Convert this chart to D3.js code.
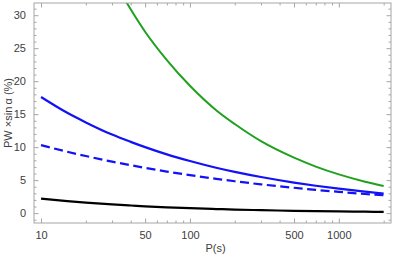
<!DOCTYPE html>
<html>
<head>
<meta charset="utf-8">
<script src="https://cdn.jsdelivr.net/npm/d3@7"></script>
<style>
  body { margin: 0; background: #fff; }
  text { font-family: "Liberation Sans", Arial, sans-serif; }
</style>
</head>
<body>
<div id="chart"></div>
<script>
// periods (s)
const periods = [10, 15, 20, 30, 40, 50, 70, 100, 150, 200, 300, 500, 700, 1000, 1500, 2000];
// PW x sin(alpha) in %
const greenVals  = [null, null, 44.2, 35.8, 30.9, 27.5, 23.2, 19.3, 15.6, 13.5, 10.9, 8.4, 7.05, 5.87, 4.76, 4.1];
const blueVals   = [17.6, 15.2, 13.75, 11.9, 10.8, 10.0, 8.9, 7.9, 6.88, 6.25, 5.47, 4.63, 4.15, 3.7, 3.25, 2.95];
const dashedVals = [10.3, 9.3, 8.65, 7.8, 7.26, 6.86, 6.3, 5.76, 5.2, 4.83, 4.36, 3.84, 3.52, 3.22, 2.9, 2.7];
const blackVals  = [2.2, 1.82, 1.59, 1.31, 1.15, 1.03, 0.88, 0.745, 0.616, 0.538, 0.445, 0.35, 0.3, 0.253, 0.21, 0.185];

const xMajor = [10, 50, 100, 500, 1000];
const xMinor = [20, 30, 40, 60, 70, 80, 90, 200, 300, 400, 600, 700, 800, 900, 2000];
const yMajor = [0, 5, 10, 15, 20, 25, 30];

const W = 395, H = 261;
const margin = {top: 3, right: 4, bottom: 38, left: 34};
const width = W - margin.left - margin.right;
const height = H - margin.top - margin.bottom;

const svg = d3.select("#chart").append("svg")
    .attr("width", W)
    .attr("height", H);

const g = svg.append("g")
    .attr("transform", `translate(${margin.left},${margin.top})`);

const x = d3.scaleLog().domain([8.97, 2240]).range([0, width]);
const y = d3.scaleLinear().domain([-1.5, 31.85]).range([height, 0]);

const yMinor = d3.range(-1, 32).filter(v => v % 5 !== 0);

g.append("clipPath").attr("id", "clip")
  .append("rect").attr("width", width).attr("height", height);

const series = [
  {vals: greenVals, color: "#1fa11f", dash: null, w: 2},
  {vals: blueVals, color: "#1212f5", dash: null, w: 2.2},
  {vals: dashedVals, color: "#1212f5", dash: "9,4.5", w: 2.2},
  {vals: blackVals, color: "#000", dash: null, w: 2.2}
];

const line = d3.line()
    .defined(d => d.v != null)
    .x(d => x(d.p))
    .y(d => y(d.v))
    .curve(d3.curveMonotoneX);

g.append("g").attr("clip-path", "url(#clip)")
  .selectAll("path")
  .data(series)
  .enter().append("path")
    .attr("fill", "none")
    .attr("stroke", d => d.color)
    .attr("stroke-width", d => d.w)
    .attr("stroke-dasharray", d => d.dash)
    .attr("d", d => line(periods.map((p, i) => ({p: p, v: d.vals[i]}))));

const frameColor = "#a6a6a6";

function styleAxis(sel) {
  sel.select(".domain").remove();
  sel.selectAll(".tick line").attr("stroke", frameColor);
  sel.selectAll(".tick text")
     .attr("fill", "#404040")
     .style("font-size", "11px");
}

// bottom axis
g.append("g").attr("transform", `translate(0,${height})`)
  .call(d3.axisBottom(x).tickValues(xMajor).tickFormat(d3.format("d")).tickSize(-4.5).tickPadding(8))
  .call(styleAxis);
g.append("g").attr("transform", `translate(0,${height})`)
  .call(d3.axisBottom(x).tickValues(xMinor).tickFormat("").tickSize(-2.5))
  .call(styleAxis);
// top axis
g.append("g")
  .call(d3.axisTop(x).tickValues(xMajor).tickFormat("").tickSize(-4.5))
  .call(styleAxis);
g.append("g")
  .call(d3.axisTop(x).tickValues(xMinor).tickFormat("").tickSize(-2.5))
  .call(styleAxis);
// left axis
g.append("g")
  .call(d3.axisLeft(y).tickValues(yMajor).tickSize(-4.5).tickPadding(8))
  .call(styleAxis);
g.append("g")
  .call(d3.axisLeft(y).tickValues(yMinor).tickFormat("").tickSize(-2.5))
  .call(styleAxis);
// right axis
g.append("g").attr("transform", `translate(${width},0)`)
  .call(d3.axisRight(y).tickValues(yMajor).tickFormat("").tickSize(-4.5))
  .call(styleAxis);
g.append("g").attr("transform", `translate(${width},0)`)
  .call(d3.axisRight(y).tickValues(yMinor).tickFormat("").tickSize(-2.5))
  .call(styleAxis);

g.append("rect")
  .attr("width", width).attr("height", height)
  .attr("fill", "none")
  .attr("stroke", frameColor)
  .attr("stroke-width", 1);

// axis titles
svg.append("text")
  .attr("x", margin.left + width / 2 + 3)
  .attr("y", 252)
  .attr("text-anchor", "middle")
  .attr("fill", "#404040")
  .style("font-size", "11px")
  .text("P(s)");

svg.append("text")
  .attr("transform", `translate(12,${margin.top + height / 2}) rotate(-90)`)
  .attr("text-anchor", "middle")
  .attr("fill", "#404040")
  .style("font-size", "11px")
  .text("PW \u00d7sin\u2009\u03b1 (%)");
</script>
</body>
</html>
